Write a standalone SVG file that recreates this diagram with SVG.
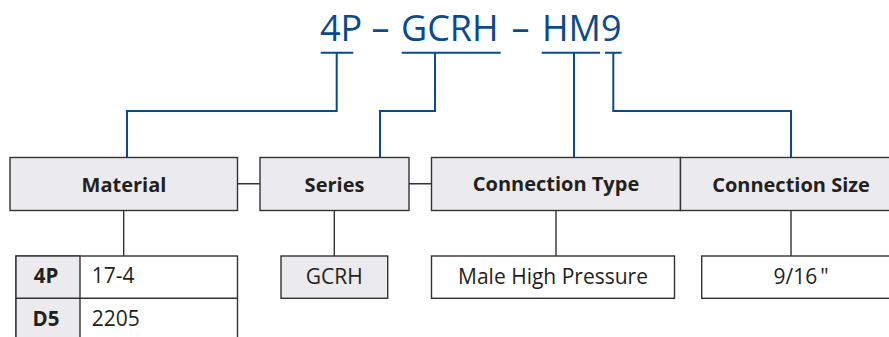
<svg xmlns="http://www.w3.org/2000/svg" width="889" height="337" viewBox="0 0 889 337">
<style>
.bg{fill:#ffffff}
.hdr{fill:#ebebed;stroke:#333333;stroke-width:1.4}
.val{fill:#ffffff;stroke:#333333;stroke-width:1.4}
.gval{fill:#ebebed;stroke:#333333;stroke-width:1.4}
.blue{fill:none;stroke:#0b4a8b;stroke-width:2}
.gray{fill:none;stroke:#333333;stroke-width:1.4}
.title{font-family:"Open Sans","Noto Sans",sans-serif;font-size:36px;fill:#0b4a8b}
.h{font-family:"Open Sans","Noto Sans",sans-serif;font-size:20px;font-weight:bold;fill:#231f20;text-anchor:middle}
.t{font-family:"Open Sans","Noto Sans",sans-serif;font-size:21px;fill:#231f20}
.tb{font-family:"Open Sans","Noto Sans",sans-serif;font-size:20.5px;font-weight:bold;fill:#231f20;text-anchor:middle}
</style>
<rect class="bg" x="0" y="0" width="889" height="337"/>
<g id="title">
<text class="title" x="320" y="40.7">4P</text>
<text class="title" x="371.5" y="40.7">–</text>
<text class="title" x="401" y="40.7">GCRH</text>
<text class="title" x="511.5" y="40.7">–</text>
<text class="title" x="542" y="40.7">HM9</text>
</g>
<g id="connectors">
<path class="blue" d="M320.7 52.7H353.3M336.7 52.7V111H127V157.5"/>
<path class="blue" d="M401.7 52.7H500.7M435 52.7V111H380V157.5"/>
<path class="blue" d="M541.7 52.7H600M574 52.7V157.5"/>
<path class="blue" d="M605 52.7H621.7M613.3 52.7V111H791V157.5"/>
<path class="gray" d="M237.5 183.7H260M409 183.7H431.5"/>
<path class="gray" d="M123.7 210.5V256M334.3 210.5V256M556 210.5V256M791 210.5V256"/>
</g>
<g id="material">
<rect class="hdr" x="10" y="157.5" width="227.5" height="53"/>
<text class="h" x="124" y="191.7">Material</text>
</g>
<g id="series">
<rect class="hdr" x="260" y="157.5" width="149" height="53"/>
<text class="h" x="334.5" y="191.7">Series</text>
</g>
<g id="connection-type">
<rect class="hdr" x="431.5" y="157.5" width="249" height="53"/>
<text class="h" x="556" y="191">Connection Type</text>
</g>
<g id="connection-size">
<rect class="hdr" x="680.5" y="157.5" width="222" height="53"/>
<text class="h" x="791" y="191.7">Connection Size</text>
</g>
<g id="material-table">
<rect class="val" x="16" y="256" width="221.5" height="100"/>
<rect class="gval" x="16" y="256" width="64" height="100"/>
<path class="gray" d="M16 298.3H237.5"/>
<text class="tb" x="46" y="283">4P</text>
<text class="t" x="91.7" y="283">17-4</text>
<text class="tb" x="46" y="325.5">D5</text>
<text class="t" x="91.7" y="325.5">2205</text>
</g>
<g id="series-value">
<rect class="gval" x="281" y="256" width="106.7" height="42.3"/>
<text class="t" x="334.3" y="284" text-anchor="middle">GCRH</text>
</g>
<g id="type-value">
<rect class="val" x="431.5" y="256" width="243" height="42.3"/>
<text class="t" x="553" y="284" text-anchor="middle">Male High Pressure</text>
</g>
<g id="size-value">
<rect class="val" x="701.7" y="256" width="200" height="42.3"/>
<text class="t" x="801" y="284" text-anchor="middle">9/16<tspan dx="3">"</tspan></text>
</g>
</svg>
